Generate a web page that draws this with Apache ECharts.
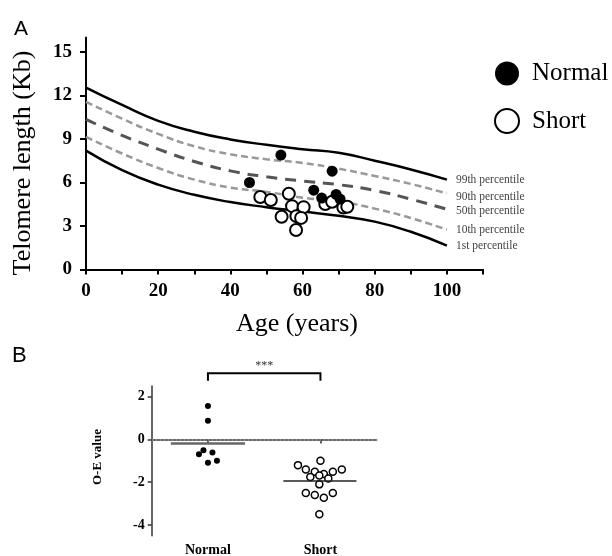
<!DOCTYPE html>
<html>
<head>
<meta charset="utf-8">
<script src="https://cdn.jsdelivr.net/npm/echarts@6/dist/echarts.min.js"></script>
<style>
  html, body { margin: 0; padding: 0; background: #fff; }
  #main { width: 612px; height: 556px; }
</style>
</head>
<body>
<div id="main"></div>
<script>
// --- panel A: percentile curves (age in years, telomere length in Kb)
var ages = [0, 10, 20, 30, 40, 50, 60, 70, 80, 90, 100];
var p99 = [12.55, 11.35, 10.25, 9.5, 8.97, 8.6, 8.3, 8.05, 7.5, 6.9, 6.2];
var p90 = [11.56, 10.4, 9.35, 8.5, 7.95, 7.6, 7.35, 6.95, 6.45, 5.9, 5.25];
var p50 = [10.35, 9.25, 8.3, 7.45, 6.8, 6.4, 6.1, 5.85, 5.45, 4.85, 4.15];
var p10 = [9.15, 8.0, 7.0, 6.2, 5.65, 5.35, 4.95, 4.7, 4.2, 3.55, 2.75];
var p1 = [8.2, 6.85, 5.85, 5.15, 4.65, 4.3, 4.0, 3.7, 3.3, 2.6, 1.65];

// patients
var normalAge = [54, 45.3, 68.2, 63.1, 65.3, 69.3, 70.4];
var normalTL = [7.89, 6.0, 6.78, 5.47, 4.93, 5.18, 4.86];
var shortAge = [48.3, 51.2, 56.2, 57.1, 60.3, 54.2, 58.3, 59.6, 58.2, 66.3, 68.2, 71.3, 72.4];
var shortTL = [5.0, 4.79, 5.22, 4.37, 4.3, 3.64, 3.68, 3.56, 2.72, 4.52, 4.67, 4.28, 4.33];

var xTicksA = [0, 20, 40, 60, 80, 100];
var yTicksA = [0, 3, 6, 9, 12, 15];

// --- panel B: O-E values (x position = group centre + jitter)
var groupNames = ['Normal', 'Short'];
var groupX = [0.5, 1.5];
var bNormalX = [0.5, 0.5, 0.46, 0.42, 0.54, 0.5, 0.58];
var bNormalY = [1.57, 0.87, -0.5, -0.69, -0.61, -1.09, -1.0];
var bShortX = [1.3, 1.5, 1.37, 1.45, 1.53, 1.61, 1.69, 1.41, 1.49, 1.57, 1.49, 1.37, 1.45, 1.53, 1.61, 1.49];
var bShortY = [-1.2, -1.0, -1.4, -1.51, -1.62, -1.51, -1.4, -1.75, -1.68, -1.82, -2.1, -2.5, -2.6, -2.73, -2.5, -3.5];
var groupMean = [-0.19, -1.95];
var yTicksB = [-4, -2, 0, 2];

var serif = 'Liberation Serif';
var sans = 'Liberation Sans';

function pairs(xs, ys) {
    var out = [];
    for (var i = 0; i < xs.length; i++) out.push([xs[i], ys[i]]);
    return out;
}

function curve(name, vals, color, width, type, label, dy) {
    return {
        name: name,
        type: 'line',
        xAxisIndex: 0,
        yAxisIndex: 0,
        data: pairs(ages, vals),
        smooth: true,
        symbol: 'none',
        silent: true,
        lineStyle: { color: color, width: width, type: type },
        endLabel: {
            show: true,
            formatter: label,
            distance: 9,
            offset: [0, dy],
            fontFamily: serif,
            fontSize: 11.5,
            color: '#444'
        },
        z: 2
    };
}

var chart = echarts.init(document.getElementById('main'));

chart.setOption({
    animation: false,
    backgroundColor: '#fff',
    grid: [
        { left: 86, top: 37.5, width: 397, height: 232, outerBoundsMode: 'none' },
        { left: 151.7, top: 386, width: 225, height: 149.7, outerBoundsMode: 'none' }
    ],
    legend: {
        data: [
            { name: 'Normal', icon: 'circle', itemStyle: { color: '#000', opacity: 1 } },
            { name: 'Short', icon: 'circle', itemStyle: { color: '#fff', borderColor: '#000', borderWidth: 2, opacity: 1 } }
        ],
        orient: 'vertical',
        left: 489,
        top: 56,
        itemWidth: 24,
        itemHeight: 24,
        itemGap: 22,
        selectedMode: false,
        textStyle: { fontFamily: serif, fontSize: 25, color: '#000', padding: [0, 0, 0, 8] }
    },
    xAxis: [
        {
            type: 'value', gridIndex: 0, min: 0, max: 110, interval: 10,
            splitLine: { show: false },
            axisLine: { show: true, lineStyle: { color: '#000', width: 2 } },
            axisTick: { show: true, length: 5, lineStyle: { color: '#000', width: 2 } },
            axisLabel: { customValues: xTicksA, margin: 12, fontFamily: serif, fontWeight: 'bold', fontSize: 19, color: '#000' }
        },
        {
            type: 'value', gridIndex: 1, min: 0, max: 2,
            splitLine: { show: false },
            axisLine: { show: true, lineStyle: { color: '#333', width: 1.5 } },
            axisTick: { show: true, customValues: groupX, length: 4, lineStyle: { color: '#333', width: 1.5 } },
            axisLabel: {
                customValues: groupX, margin: 8, fontFamily: serif, fontWeight: 'bold', fontSize: 14, color: '#000',
                formatter: function (v) { return groupNames[Math.round(v - 0.5)]; }
            }
        }
    ],
    yAxis: [
        {
            type: 'value', gridIndex: 0, min: 0, max: 16,
            splitLine: { show: false },
            axisLine: { show: true, lineStyle: { color: '#000', width: 2 } },
            axisTick: { show: true, customValues: yTicksA, length: 6, lineStyle: { color: '#000', width: 2 } },
            axisLabel: { customValues: yTicksA, margin: 14, fontFamily: serif, fontWeight: 'bold', fontSize: 19, color: '#000' }
        },
        {
            type: 'value', gridIndex: 1, min: -4.5, max: 2.5,
            splitLine: { show: false },
            axisLine: { show: true, lineStyle: { color: '#333', width: 1.5 } },
            axisTick: { show: true, customValues: yTicksB, length: 4, lineStyle: { color: '#333', width: 1.5 } },
            axisLabel: { customValues: yTicksB, margin: 7, fontFamily: serif, fontWeight: 'bold', fontSize: 14, color: '#000' }
        }
    ],
    series: [
        curve('p99', p99, '#000', 2.5, 'solid', '99th percentile', 0),
        curve('p90', p90, '#999', 2.5, [7, 4], '90th percentile', 4),
        curve('p50', p50, '#555', 3, [11, 8], '50th percentile', 2),
        curve('p10', p10, '#999', 2.5, [7, 4], '10th percentile', 0),
        curve('p1', p1, '#000', 2.5, 'solid', '1st percentile', 0),
        {
            name: 'Normal', type: 'scatter', xAxisIndex: 0, yAxisIndex: 0,
            data: pairs(normalAge, normalTL), symbolSize: 11,
            itemStyle: { color: '#000', opacity: 1 }, z: 4
        },
        {
            name: 'Short', type: 'scatter', xAxisIndex: 0, yAxisIndex: 0,
            data: pairs(shortAge, shortTL), symbolSize: 12,
            itemStyle: { color: '#fff', borderColor: '#000', borderWidth: 2, opacity: 1 }, z: 3
        },
        {
            name: 'Normal O-E', type: 'scatter', xAxisIndex: 1, yAxisIndex: 1,
            data: pairs(bNormalX, bNormalY), symbolSize: 6,
            itemStyle: { color: '#000', opacity: 1 },
            // group means
            markLine: {
                silent: true, symbol: 'none', label: { show: false },
                data: [
                    [{ coord: [groupX[0] - 0.33, groupMean[0]], lineStyle: { color: '#666', width: 2.5, type: 'solid' } },
                     { coord: [groupX[0] + 0.33, groupMean[0]] }],
                    [{ coord: [groupX[1] - 0.33, groupMean[1]], lineStyle: { color: '#222', width: 1.5, type: 'solid' } },
                     { coord: [groupX[1] + 0.32, groupMean[1]] }]
                ]
            }
        },
        {
            name: 'Short O-E', type: 'scatter', xAxisIndex: 1, yAxisIndex: 1,
            data: pairs(bShortX, bShortY), symbolSize: 7,
            itemStyle: { color: '#fff', borderColor: '#000', borderWidth: 1.5, opacity: 1 },
            // zero reference line
            markLine: {
                silent: true, symbol: 'none', label: { show: false },
                lineStyle: { color: '#999', width: 1.5, type: [1.5, 2.5] },
                data: [{ yAxis: 0 }],
                z: 1
            }
        }
    ]
});

// significance bracket between the two groups, placed from axis values
var sigLevel = 3.1, sigDrop = 0.35;
var pL = chart.convertToPixel({ xAxisIndex: 1, yAxisIndex: 1 }, [groupX[0], sigLevel]);
var pR = chart.convertToPixel({ xAxisIndex: 1, yAxisIndex: 1 }, [groupX[1], sigLevel]);
var pDown = chart.convertToPixel({ xAxisIndex: 1, yAxisIndex: 1 }, [groupX[0], sigLevel - sigDrop]);

chart.setOption({
    graphic: [
        { type: 'text', left: 14, top: 19, style: { text: 'A', font: '21px ' + sans, fill: '#000' } },
        { type: 'text', left: 12, top: 345, style: { text: 'B', font: '22px ' + sans, fill: '#000' } },
        {
            type: 'text', x: 23, y: 163, rotation: Math.PI / 2,
            style: { text: 'Telomere length (Kb)', font: '26px ' + serif, fill: '#000', textAlign: 'center', textVerticalAlign: 'middle' }
        },
        {
            type: 'text', x: 297, y: 324,
            style: { text: 'Age (years)', font: '26px ' + serif, fill: '#000', textAlign: 'center', textVerticalAlign: 'middle' }
        },
        {
            type: 'text', x: 98, y: 457, rotation: Math.PI / 2,
            style: { text: 'O-E value', font: 'bold 13px ' + serif, fill: '#000', textAlign: 'center', textVerticalAlign: 'middle' }
        },
        {
            type: 'polyline',
            shape: { points: [[pL[0], pDown[1]], [pL[0], pL[1]], [pR[0], pR[1]], [pR[0], pDown[1]]] },
            style: { stroke: '#000', lineWidth: 2, fill: null }
        },
        {
            type: 'text', x: (pL[0] + pR[0]) / 2, y: pL[1] - 7,
            style: { text: '***', font: '12px ' + serif, fill: '#333', textAlign: 'center', textVerticalAlign: 'middle' }
        }
    ]
});
</script>
</body>
</html>
